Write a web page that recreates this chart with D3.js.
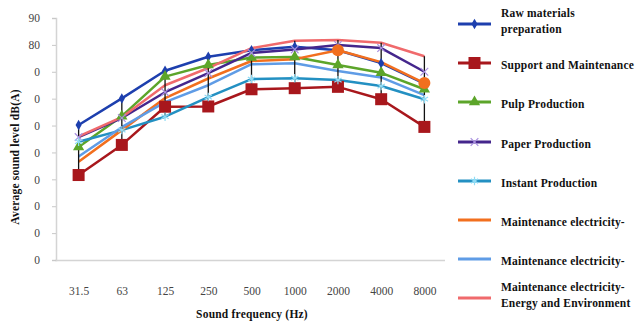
<!DOCTYPE html>
<html>
<head>
<meta charset="utf-8">
<script src="https://cdn.jsdelivr.net/npm/d3@7"></script>
<style>
  body { margin: 0; background: #fff; }
  svg text { font-family: "Liberation Serif", "DejaVu Serif", serif; }
</style>
</head>
<body>
<div id="chart"></div>
<script>
const categories = ['31.5', '63', '125', '250', '500', '1000', '2000', '4000', '8000']
const yTicks = [0, 10, 20, 30, 40, 50, 60, 70, 80, 90]
const yTickLabels = ['0', '0', '0', '0', '0', '0', '0', '0', '80', '90']

const rawMaterials = [50.2, 60.1, 70.4, 75.6, 78, 79.3, 78, 73.2, 65.6]
const supportMaintenance = [31.6, 42.8, 57, 57.1, 63.5, 63.9, 64.4, 59.8, 49.5]
const pulpProduction = [42, 53.5, 68.2, 72.5, 75.3, 75.5, 72.5, 69.6, 63.5]
const paperProduction = [45.7, 52.8, 62.4, 69.5, 77, 78.3, 80, 78.8, 70]
const instantProduction = [44, 48.3, 53.3, 60.6, 67.3, 67.6, 66.9, 64.7, 59.8]
const maintElecA = [36.5, 48.3, 60.2, 67.5, 74, 74.7, 78, 73.6, 65.8]
const maintElecB = [38.5, 49.4, 58.7, 65, 72.8, 73.2, 70.3, 67.9, 61.3]
const maintElecEnv = [46, 53.1, 65, 71.4, 78.8, 81.5, 81.8, 80.8, 75.8]

const seriesNames = [
  ['Raw materials', 'preparation'],
  ['Support and Maintenance'],
  ['Pulp Production'],
  ['Paper Production'],
  ['Instant Production'],
  ['Maintenance electricity-'],
  ['Maintenance electricity-'],
  ['Maintenance electricity-', 'Energy and Environment']
]

const series = [
  { name: seriesNames[0], values: rawMaterials, color: '#1d3fae', marker: 'diamond' },
  { name: seriesNames[1], values: supportMaintenance, color: '#a8171c', marker: 'square' },
  { name: seriesNames[2], values: pulpProduction, color: '#5ca52a', marker: 'triangle' },
  { name: seriesNames[3], values: paperProduction, color: '#44268c', marker: 'cross' },
  { name: seriesNames[4], values: instantProduction, color: '#2390c2', marker: 'star' },
  { name: seriesNames[5], values: maintElecA, color: '#f26f1e', marker: 'circle' },
  { name: seriesNames[6], values: maintElecB, color: '#5f9ce6', marker: 'none' },
  { name: seriesNames[7], values: maintElecEnv, color: '#f06a6c', marker: 'none' }
]
// the orange series only shows its round markers at these points
const circleAt = ['2000', '8000']

const width = 636
const height = 322

const svg = d3.select('#chart').append('svg')
  .attr('width', width)
  .attr('height', height)

const x = d3.scalePoint()
  .domain(categories)
  .range([57, 446])
  .padding(0.5)

const y = d3.scaleLinear()
  .domain([0, 90])
  .range([260, 18])

// axes
const xAxis = svg.append('g')
  .attr('transform', `translate(0,${y(0)})`)
  .call(d3.axisBottom(x).tickSize(0).tickPadding(27))
xAxis.select('.domain').attr('stroke', '#d4d4d4').attr('stroke-width', 1.5)
  .attr('d', `M55,0.5H445`)
xAxis.selectAll('text').attr('font-size', 11.5).attr('fill', '#444')
  .attr('font-family', '"Liberation Serif", serif')

const yAxis = svg.append('g')
  .attr('transform', 'translate(56,0)')
  .call(d3.axisLeft(y).tickValues(yTicks).tickSize(4).tickPadding(12)
    .tickFormat((d, i) => yTickLabels[i]))
yAxis.select('.domain').attr('stroke', '#d4d4d4').attr('stroke-width', 1.5)
yAxis.selectAll('.tick line').attr('stroke', '#c8c8c8')
yAxis.selectAll('text').attr('font-size', 11.5).attr('fill', '#444')
  .attr('font-family', '"Liberation Serif", serif')

// high-low lines
const hiLo = categories.map((c, i) => {
  const vals = series.map(s => s.values[i])
  return { c, hi: d3.max(vals), lo: d3.min(vals) }
})

const line = d3.line()
  .x((d, i) => x(categories[i]))
  .y(d => y(d))

const plot = svg.append('g')
series.forEach(s => {
  plot.append('path')
    .datum(s.values)
    .attr('d', line)
    .attr('fill', 'none')
    .attr('stroke', s.color)
    .attr('stroke-width', 2.5)
    .attr('stroke-linejoin', 'round')
})

plot.selectAll('.hilo')
  .data(hiLo)
  .enter()
  .append('line')
  .attr('class', 'hilo')
  .attr('x1', d => x(d.c))
  .attr('x2', d => x(d.c))
  .attr('y1', d => y(d.hi))
  .attr('y2', d => y(d.lo))
  .attr('stroke', '#111')
  .attr('stroke-width', 1.3)

function drawMarker (g, type, cx, cy, color) {
  if (type === 'diamond') {
    g.append('path').attr('d', d3.symbol(d3.symbolDiamond, 32)())
      .attr('transform', `translate(${cx},${cy})`).attr('fill', color)
  } else if (type === 'square') {
    g.append('rect').attr('x', cx - 6).attr('y', cy - 6).attr('width', 12).attr('height', 12)
      .attr('fill', color)
  } else if (type === 'triangle') {
    g.append('path').attr('d', d3.symbol(d3.symbolTriangle, 55)())
      .attr('transform', `translate(${cx},${cy})`).attr('fill', color)
  } else if (type === 'cross') {
    g.append('path').attr('d', d3.symbol(d3.symbolX, 40)())
      .attr('transform', `translate(${cx},${cy})`).attr('fill', 'none')
      .attr('stroke', '#a990e0').attr('stroke-width', 1.2)
  } else if (type === 'star') {
    g.append('path').attr('d', d3.symbol(d3.symbolAsterisk, 50)())
      .attr('transform', `translate(${cx},${cy})`).attr('fill', 'none')
      .attr('stroke', '#8fdcf5').attr('stroke-width', 1.2)
  } else if (type === 'circle') {
    g.append('circle').attr('cx', cx).attr('cy', cy).attr('r', 6).attr('fill', color)
  }
}

const markers = svg.append('g')
series.forEach(s => {
  s.values.forEach((v, i) => {
    if (s.marker === 'circle' && !circleAt.includes(categories[i])) return
    drawMarker(markers, s.marker, x(categories[i]), y(v), s.color)
  })
})

// legend
const legendRowY = [24, 63, 102, 142, 181, 220, 259, 298]
const legend = svg.append('g')
series.forEach((s, i) => {
  const ly = legendRowY[i]
  legend.append('line')
    .attr('x1', 458).attr('x2', 491)
    .attr('y1', ly).attr('y2', ly)
    .attr('stroke', s.color).attr('stroke-width', 3)
  if (s.marker !== 'circle' && s.marker !== 'none') {
    drawMarker(legend, s.marker, 474.5, ly, s.color)
  }
  const t = legend.append('text')
    .attr('x', 501)
    .attr('font-size', 11.5)
    .attr('font-weight', 'bold')
    .attr('letter-spacing', 0.2)
    .attr('fill', '#111')
  if (s.name.length === 2) {
    t.append('tspan').attr('x', 501).attr('y', ly - 7).text(s.name[0])
    t.append('tspan').attr('x', 501).attr('y', ly + 9).text(s.name[1])
  } else {
    t.attr('y', ly + 3).attr('dominant-baseline', 'middle').text(s.name[0])
  }
})

// axis titles
svg.append('text')
  .attr('x', 252).attr('y', 318)
  .attr('text-anchor', 'middle')
  .attr('font-size', 11.5).attr('font-weight', 'bold').attr('fill', '#111')
  .attr('letter-spacing', 0.2)
  .text('Sound frequency (Hz)')

svg.append('text')
  .attr('transform', 'translate(19,157) rotate(-90)')
  .attr('text-anchor', 'middle')
  .attr('font-size', 11.5).attr('font-weight', 'bold').attr('fill', '#111')
  .attr('letter-spacing', 0.2)
  .text('Average  sound level dB(A)')
</script>
</body>
</html>
